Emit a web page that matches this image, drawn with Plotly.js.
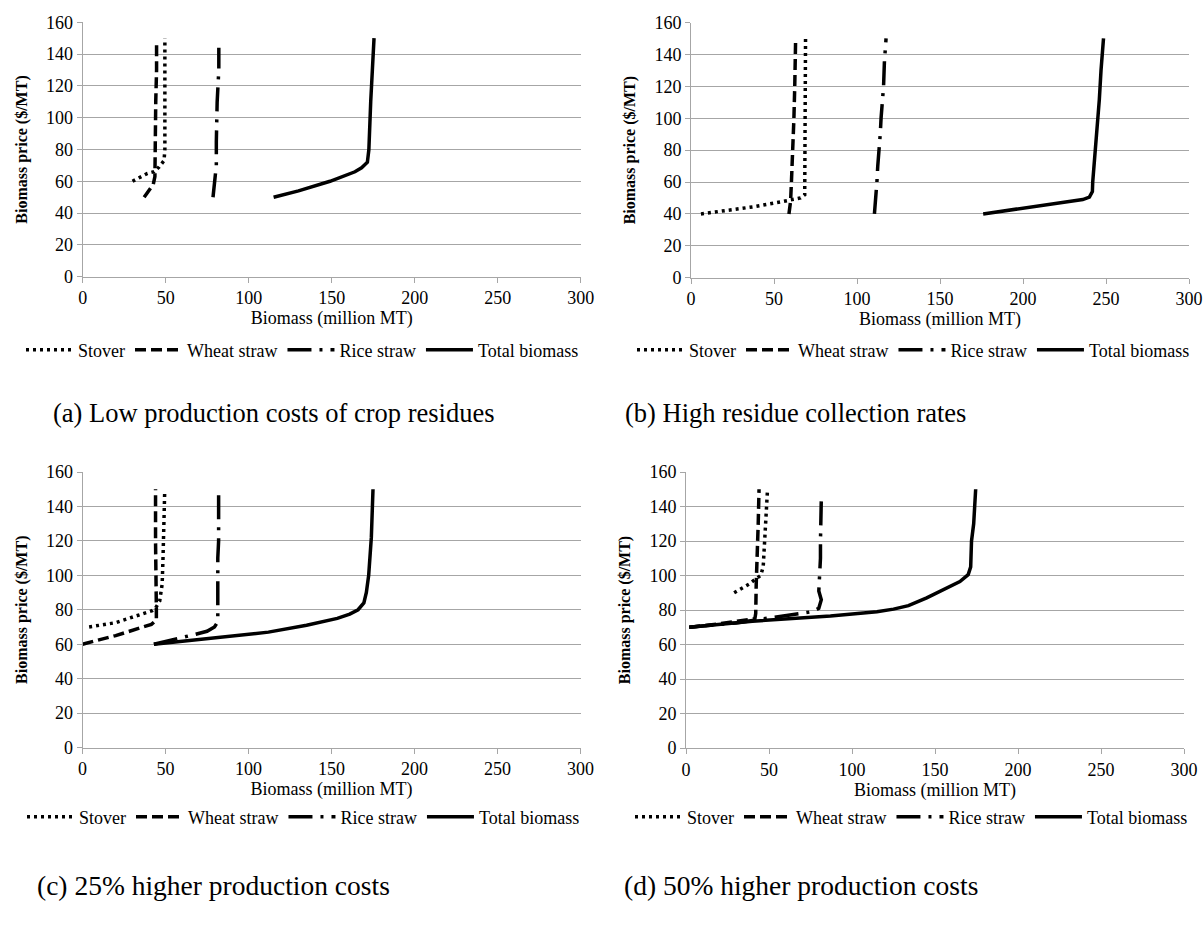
<!DOCTYPE html>
<html><head><meta charset="utf-8">
<script src="https://cdn.plot.ly/plotly-3.0.1.min.js"></script>
<style>body{margin:0;background:#fff}#chart{width:1204px;height:926px}</style>
</head><body><div id="chart"></div><script>
// ---- Data (biomass in million MT, price in $/MT) ----
const seriesNames = ['Stover', 'Wheat straw', 'Rice straw', 'Total biomass'];
const xTickVals = [0, 50, 100, 150, 200, 250, 300];
const yTickVals = [0, 20, 40, 60, 80, 100, 120, 140, 160];
const panelTitles = ['(a) Low production costs of crop residues', '(b) High residue collection rates',
                     '(c) 25% higher production costs', '(d) 50% higher production costs'];

// (a) Low production costs of crop residues
const aStoverX = [30, 39, 43, 46, 49, 49.5, 49.5, 49.5, 49.5, 49.5];
const aStoverY = [60, 65, 66, 69, 73, 80, 100, 120, 140, 150];
const aWheatX  = [37, 40, 42.5, 43.5, 43.5, 44, 44, 44.5, 44.5];
const aWheatY  = [50, 54, 58, 63, 70, 90, 110, 130, 148];
const aRiceX   = [78.5, 79.5, 80.5, 80.5, 80.5, 81, 81.5, 82, 82];
const aRiceY   = [50, 60, 70, 85, 100, 110, 120, 130, 144];
const aTotalX  = [115, 130, 149, 158, 164, 168, 171.5, 172.4, 173, 173.5, 174.5, 175.5];
const aTotalY  = [50, 54, 60, 63.5, 66, 68.5, 72, 80, 100, 110, 130, 150];

// (b) High residue collection rates
const bStoverX = [6, 20, 38, 54, 63, 66, 68.5, 68.5, 68.5, 69];
const bStoverY = [40, 42, 44.5, 47.5, 49, 50, 52, 80, 100, 150];
const bWheatX  = [59, 60, 60.5, 61.5, 62, 62.5, 63];
const bWheatY  = [40, 48, 60, 80, 100, 120, 148];
const bRiceX   = [110.5, 111.5, 112, 112.5, 113.5, 114, 114.5, 115.5, 116, 116.5, 117.5];
const bRiceY   = [40, 50, 60, 70, 80, 90, 100, 110, 120, 135, 150];
const bTotalX  = [176, 200, 220, 236, 240, 241.8, 242, 243, 243.7, 244.8, 246, 247, 248.5];
const bTotalY  = [40, 43.5, 46.5, 49, 50.5, 54, 60, 73, 80, 100, 112, 130, 150];

// (c) 25% higher production costs
const cStoverX = [4, 20, 42, 44, 46.5, 48, 48.5, 49, 49.5];
const cStoverY = [70, 72.5, 79.5, 81, 85, 95, 110, 130, 148];
const cWheatX  = [0, 20, 41.5, 44.5, 44.5, 44, 44, 44];
const cWheatY  = [60, 65, 71.5, 74, 80, 100, 120, 150];
const cRiceX   = [43, 55, 67, 75, 79.5, 81.5, 81.5, 81, 81.5, 82, 82, 82];
const cRiceY   = [60, 62.5, 65.5, 67.5, 70, 73, 80, 100, 110, 120, 135, 150];
const cTotalX  = [43, 60, 80, 112, 135, 145, 153.5, 161, 166, 169.5, 171, 172.4, 173.3, 174, 175];
const cTotalY  = [60, 61.8, 63.5, 67, 71, 73, 75, 77.5, 80, 84, 90, 100, 111, 122, 150];

// (d) 50% higher production costs
const dStoverX = [29, 38, 42, 45, 46.5, 47.5, 48.5, 49];
const dStoverY = [90, 95, 98, 100, 105, 120, 135, 148];
const dWheatX  = [2, 20, 41.5, 42, 42.3, 43, 43.5, 44];
const dWheatY  = [70, 72, 75, 78, 95, 112, 130, 150];
const dRiceX   = [2, 30, 51, 67, 76, 80, 81.5, 80, 80.5, 81, 81, 81.5, 81.5];
const dRiceY   = [70, 72.5, 75.5, 77.5, 79, 81, 86, 91, 100, 110, 120, 135, 144];
const dTotalX  = [2, 40, 87, 115, 125, 134, 145, 157, 165, 170, 171.5, 172, 173.3, 174.5];
const dTotalY  = [70, 73.5, 76.5, 79, 80.5, 82.5, 87, 92.5, 96.5, 100.5, 105, 120, 130, 150];

// ---- Build ----
const FONT = 'Liberation Serif, Times New Roman, serif';
const GRID = '#A6A6A6';
const W = 1204, H = 926;
const dashes = ['3px,4px', '11px,5px', '24px,8px,3px,8px', 'solid'];

const panels = [
  {xs:[aStoverX,aWheatX,aRiceX,aTotalX], ys:[aStoverY,aWheatY,aRiceY,aTotalY]},
  {xs:[bStoverX,bWheatX,bRiceX,bTotalX], ys:[bStoverY,bWheatY,bRiceY,bTotalY]},
  {xs:[cStoverX,cWheatX,cRiceX,cTotalX], ys:[cStoverY,cWheatY,cRiceY,cTotalY]},
  {xs:[dStoverX,dWheatX,dRiceX,dTotalX], ys:[dStoverY,dWheatY,dRiceY,dTotalY]}
];
// pixel boxes of plot areas [left, right, top, bottom]
const boxes = [[82.7, 580.7, 22.3, 276.7], [691, 1189, 22.5, 277.7],
               [82.5, 580.5, 472, 747.5], [686, 1184, 472, 748]];
const legendPos = [[21, 350], [632, 350], [22, 817], [630, 817]];
const subPos = [[51, 413], [623, 413], [35, 885], [622, 885]];
const subSize = [26.5, 26.5, 27.5, 27.5];

const traces = [];
panels.forEach((p, i) => {
  const sfx = i === 0 ? '' : String(i + 1);
  for (let s = 0; s < 4; s++) {
    traces.push({
      x: p.xs[s], y: p.ys[s], type: 'scatter', mode: 'lines',
      name: seriesNames[s], xaxis: 'x' + sfx, yaxis: 'y' + sfx,
      legend: 'legend' + sfx,
      line: {color: '#000', width: 3.5, dash: dashes[s]},
      hoverinfo: 'skip'
    });
  }
});

const layout = {
  width: W, height: H, margin: {l: 0, r: 0, t: 0, b: 0},
  paper_bgcolor: '#fff', plot_bgcolor: '#fff',
  font: {family: FONT, size: 18, color: '#000'},
  showlegend: true, annotations: []
};
boxes.forEach((b, i) => {
  const sfx = i === 0 ? '' : String(i + 1);
  layout['xaxis' + sfx] = {
    domain: [b[0] / W, b[1] / W], anchor: 'y' + sfx, range: [0, 300],
    tickvals: xTickVals, showgrid: false, zeroline: false,
    showline: true, linecolor: GRID, linewidth: 1,
    ticks: 'outside', ticklen: 5, tickcolor: GRID, tickwidth: 1,
    tickfont: {family: FONT, size: 18, color: '#000'},
    title: {text: 'Biomass (million MT)', font: {family: FONT, size: 18, color: '#000'}, standoff: 2},
    fixedrange: true
  };
  layout['yaxis' + sfx] = {
    domain: [(H - b[3]) / H, (H - b[2]) / H], anchor: 'x' + sfx, range: [0, 160],
    tickvals: yTickVals, showgrid: true, gridcolor: GRID, gridwidth: 1, zeroline: false,
    showline: true, linecolor: GRID, linewidth: 1,
    ticks: 'outside', ticklen: 5, tickcolor: GRID, tickwidth: 1,
    tickfont: {family: FONT, size: 18, color: '#000'},
    title: {text: 'Biomass price ($/MT)', font: {family: FONT, size: 16, color: '#000', weight: 'bold'}, standoff: 14},
    fixedrange: true
  };
  layout['legend' + sfx] = {
    orientation: 'h', x: legendPos[i][0] / W, y: (H - legendPos[i][1]) / H,
    xanchor: 'left', yanchor: 'middle', bgcolor: 'rgba(0,0,0,0)',
    font: {family: FONT, size: 18, color: '#000'}, itemwidth: 47,
    itemclick: false, itemdoubleclick: false
  };
  layout.annotations.push({
    text: panelTitles[i], xref: 'paper', yref: 'paper',
    x: subPos[i][0] / W, y: (H - subPos[i][1]) / H, xanchor: 'left', yanchor: 'middle',
    showarrow: false, font: {family: FONT, size: subSize[i], color: '#000'}
  });
});

Plotly.newPlot('chart', traces, layout, {displayModeBar: false, staticPlot: true});
</script></body></html>
